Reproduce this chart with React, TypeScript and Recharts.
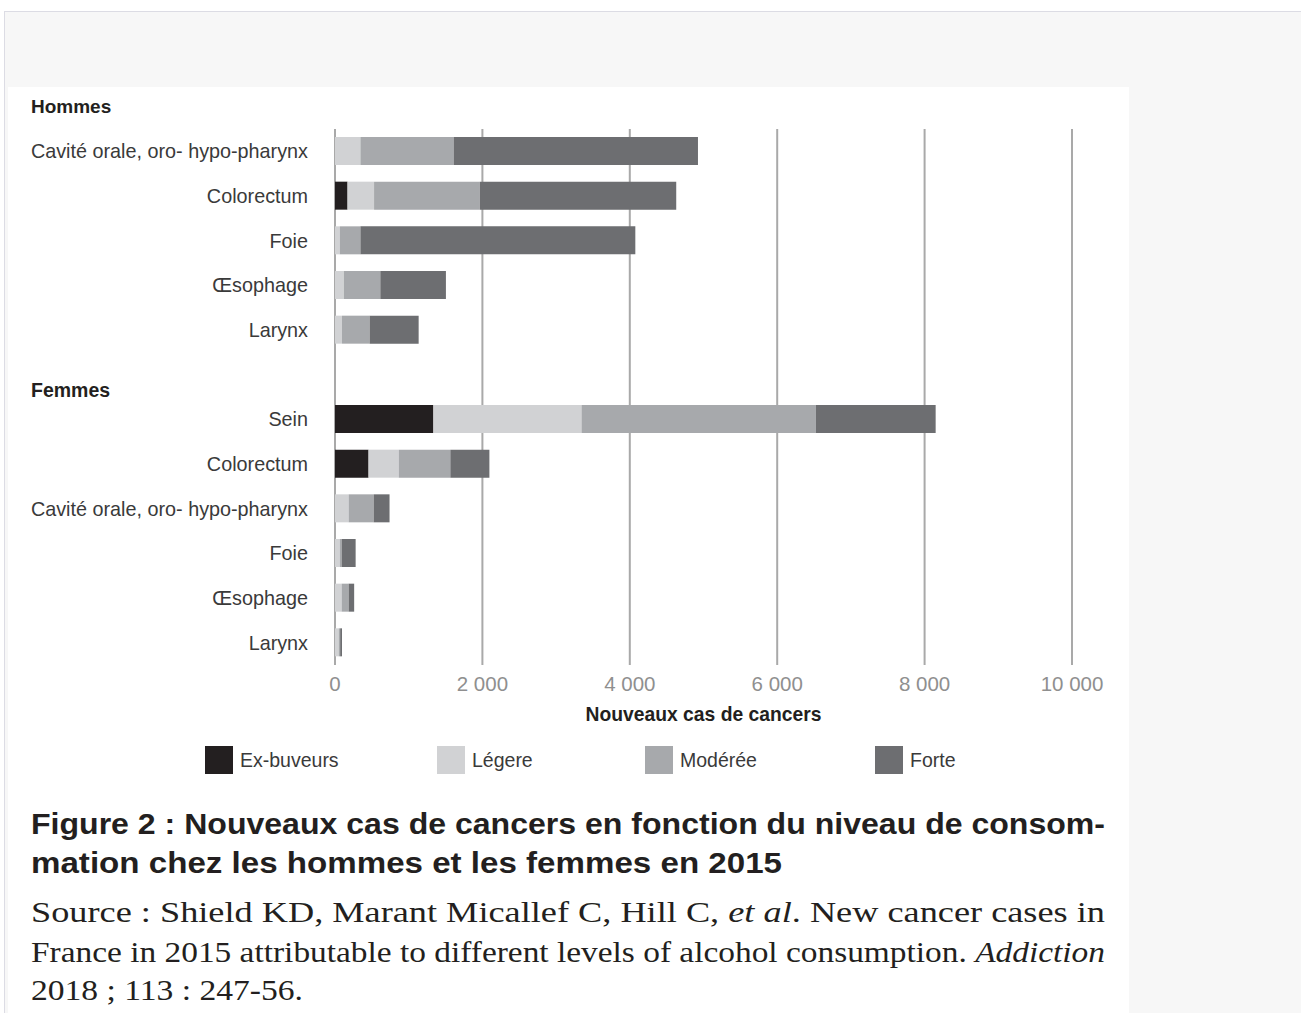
import { BarChart, Bar, XAxis, YAxis, CartesianGrid } from "recharts";

const categories = [
  "h-cavite",
  "h-colorectum",
  "h-foie",
  "h-oesophage",
  "h-larynx",
  "femmes",
  "f-sein",
  "f-colorectum",
  "f-cavite",
  "f-foie",
  "f-oesophage",
  "f-larynx",
];
const categoryLabels = [
  "Cavité orale, oro- hypo-pharynx",
  "Colorectum",
  "Foie",
  "Œsophage",
  "Larynx",
  "Femmes",
  "Sein",
  "Colorectum",
  "Cavité orale, oro- hypo-pharynx",
  "Foie",
  "Œsophage",
  "Larynx",
];

const exBuveurs = [0, 170, 0, 0, 0, null, 1335, 455, 0, 0, 0, 0];
const legere = [345, 360, 65, 120, 95, null, 2010, 410, 185, 65, 90, 50];
const moderee = [1265, 1435, 280, 495, 375, null, 3180, 700, 340, 25, 95, 20];
const forte = [3315, 2665, 3730, 890, 665, null, 1625, 530, 215, 190, 75, 25];

const xTicks = [0, 2000, 4000, 6000, 8000, 10000];

const SERIES = [
  { key: "ex", name: "Ex-buveurs", color: "#231f20" },
  { key: "legere", name: "Légere", color: "#d1d2d4" },
  { key: "moderee", name: "Modérée", color: "#a7a9ac" },
  { key: "forte", name: "Forte", color: "#6d6e71" },
];
const LEGEND_X = [205, 437, 645, 875];

const data = categories.map((id, i) => ({
  id,
  ex: exBuveurs[i],
  legere: legere[i],
  moderee: moderee[i],
  forte: forte[i],
}));

const formatThousands = (v: number) =>
  v >= 1000 ? `${Math.floor(v / 1000)} ${String(v % 1000).padStart(3, "0")}` : String(v);

function CategoryTick({ x, y, payload }: any) {
  const idx = categories.indexOf(payload.value);
  const label = categoryLabels[idx];
  if (payload.value === "femmes") {
    return (
      <text x={31} y={y + 15} dy="0.355em" fontSize={19.5} fontWeight={700} fill="#231f20">
        {label}
      </text>
    );
  }
  return (
    <text x={x} y={y} dy="0.355em" textAnchor="end" fontSize={19.8} fill="#3a3a3a">
      {label}
    </text>
  );
}

export default function App() {
  const font = '"Liberation Sans", Arial, sans-serif';
  const serif = '"Liberation Serif", "Times New Roman", serif';
  return (
    <div
      style={{
        position: "absolute",
        left: 0,
        top: 0,
        width: 1301,
        height: 1013,
        background: "#fff",
        overflow: "hidden",
        fontFamily: font,
      }}
    >
      <div
        style={{
          position: "absolute",
          left: 4,
          top: 11,
          right: 0,
          bottom: 0,
          background: "#f7f7f7",
          borderLeft: "1px solid #dcdce4",
          borderTop: "1px solid #dcdce4",
        }}
      />
      <div
        style={{
          position: "absolute",
          left: 8,
          top: 87,
          width: 1121,
          bottom: 0,
          background: "#fff",
        }}
      />
      <div
        style={{
          position: "absolute",
          left: 31,
          top: 97,
          fontSize: 19,
          fontWeight: 700,
          color: "#231f20",
          lineHeight: "20px",
        }}
      >
        Hommes
      </div>

      <div style={{ position: "absolute", left: 0, top: 0 }}>
        <BarChart
          width={1130}
          height={730}
          data={data}
          layout="vertical"
          margin={{ top: 129, right: 58, bottom: 5, left: 0 }}
          barSize={28}
        >
          <CartesianGrid horizontal={false} stroke="#a9a9a9" strokeWidth={2} />
          <XAxis
            type="number"
            domain={[0, 10000]}
            ticks={xTicks}
            tickFormatter={formatThousands}
            axisLine={false}
            tickLine={false}
            tickSize={0}
            tickMargin={11}
            height={60}
            tick={{ fontSize: 20.5, fill: "#8f8f8f", fontFamily: font }}
            label={{
              value: "Nouveaux cas de cancers",
              position: "insideBottom",
              offset: 4,
              fontSize: 19.3,
              fontWeight: 700,
              fill: "#231f20",
              fontFamily: font,
            }}
          />
          <YAxis
            type="category"
            dataKey="id"
            width={335}
            axisLine={false}
            tickLine={false}
            tickSize={0}
            tickMargin={27}
            interval={0}
            tick={<CategoryTick />}
          />
          {SERIES.map((s) => (
            <Bar
              key={s.key}
              dataKey={s.key}
              name={s.name}
              stackId="a"
              fill={s.color}
              isAnimationActive={false}
            />
          ))}
        </BarChart>
      </div>

      {SERIES.map((s, i) => (
        <div
          key={s.key}
          style={{
            position: "absolute",
            left: LEGEND_X[i],
            top: 746,
            display: "flex",
            alignItems: "center",
            gap: 7,
            fontSize: 19.5,
            color: "#3a3a3a",
          }}
        >
          <span style={{ width: 28, height: 28, background: s.color, display: "inline-block" }} />
          <span>{s.name}</span>
        </div>
      ))}

      <svg
        width={1130}
        height={230}
        style={{ position: "absolute", left: 0, top: 790 }}
      >
        <g fill="#231f20" fontFamily={font} fontWeight={700} fontSize={30}>
          <text x={31} y={44} textLength={1074} lengthAdjust="spacingAndGlyphs">
            Figure 2 : Nouveaux cas de cancers en fonction du niveau de consom-
          </text>
          <text x={31} y={83} textLength={751} lengthAdjust="spacingAndGlyphs">
            mation chez les hommes et les femmes en 2015
          </text>
        </g>
        <g fill="#231f20" fontFamily={serif} fontSize={30}>
          <text x={31} y={132} textLength={1074} lengthAdjust="spacingAndGlyphs">
            Source : Shield KD, Marant Micallef C, Hill C, <tspan fontStyle="italic">et al</tspan>. New cancer cases in
          </text>
          <text x={31} y={171.5} textLength={1074} lengthAdjust="spacingAndGlyphs">
            France in 2015 attributable to different levels of alcohol consumption.{" "}
            <tspan fontStyle="italic">Addiction</tspan>
          </text>
          <text x={31} y={210} textLength={272} lengthAdjust="spacingAndGlyphs">
            2018 ; 113 : 247-56.
          </text>
        </g>
      </svg>
    </div>
  );
}
